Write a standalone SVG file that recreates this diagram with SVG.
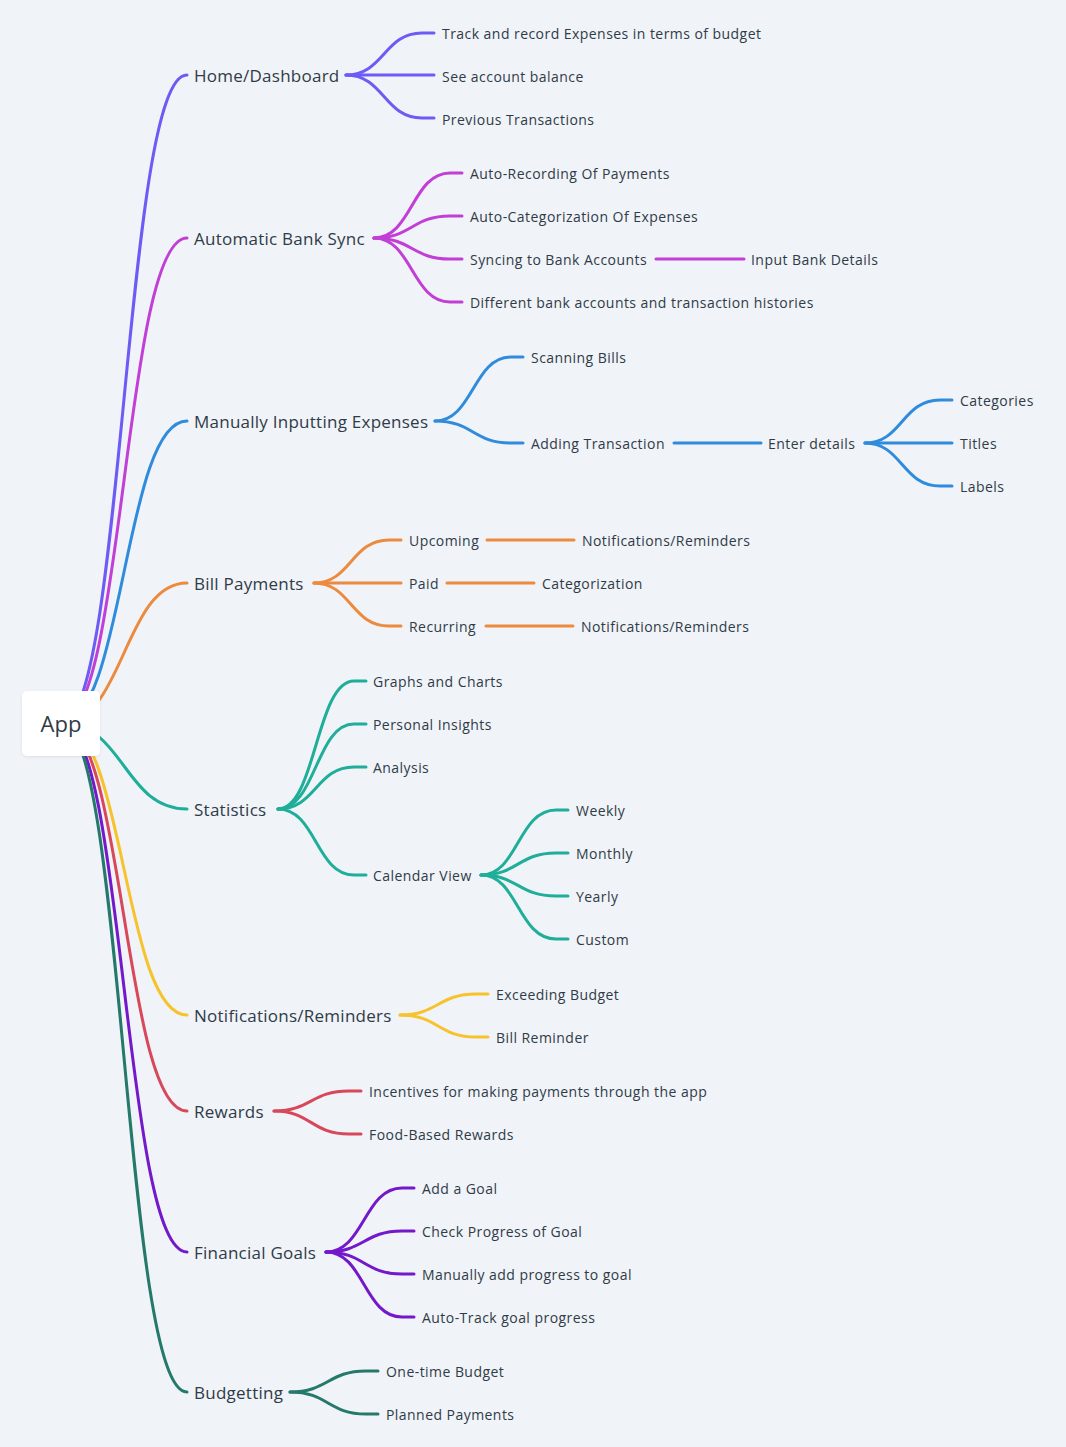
<svg xmlns="http://www.w3.org/2000/svg" width="1066" height="1447" viewBox="0 0 1066 1447">
<defs>
<style>
.t1{font-family:"Open Sans","Liberation Sans",sans-serif;font-size:17px;fill:#2f3b48;letter-spacing:0.25px;}
.t2{font-family:"Open Sans","Liberation Sans",sans-serif;font-size:14px;fill:#2f3b48;letter-spacing:0.45px;}
.c{fill:none;stroke-width:3;stroke-linecap:round;stroke-linejoin:round;}
.p1{stroke:#6C5CF5;} .p2{stroke:#C13FD6;} .p3{stroke:#2F8CDD;} .p4{stroke:#EC8A3E;} .p5{stroke:#1FAE99;}
.p6{stroke:#F7C32C;} .p7{stroke:#D8485B;} .p8{stroke:#7418CB;} .p9{stroke:#25796A;}
</style>
<filter id="sh" x="-20%" y="-20%" width="140%" height="140%"><feDropShadow dx="0" dy="1" stdDeviation="1.5" flood-color="#000" flood-opacity="0.08"/></filter>
</defs>
<rect width="1066" height="1447" fill="#F0F3F7"/>
<g id="connectors">
<path class="c p1" d="M61,723 C124,723 124,75 187,75"/>
<path class="c p2" d="M61,723 C124,723 124,238 187,238"/>
<path class="c p3" d="M61,723 C124,723 124,421 187,421"/>
<path class="c p4" d="M61,723 C124,723 124,583 187,583"/>
<path class="c p5" d="M61,723 C124,723 124,809 187,809"/>
<path class="c p6" d="M61,723 C124,723 124,1015 187,1015"/>
<path class="c p7" d="M61,723 C124,723 124,1111 187,1111"/>
<path class="c p8" d="M61,723 C124,723 124,1252 187,1252"/>
<path class="c p9" d="M61,723 C124,723 124,1392 187,1392"/>

<path class="c p1" d="M346,75 C384,75 384,33 422,33 L434,33"/>
<path class="c p1" d="M346,75 L434,75"/>
<path class="c p1" d="M346,75 C384,75 384,118 422,118 L434,118"/>

<path class="c p2" d="M374,238 C412,238 412,173 450,173 L462,173"/>
<path class="c p2" d="M374,238 C412,238 412,216 450,216 L462,216"/>
<path class="c p2" d="M374,238 C412,238 412,259 450,259 L462,259"/>
<path class="c p2" d="M374,238 C412,238 412,302 450,302 L462,302"/>
<path class="c p2" d="M656,259 L744,259"/>

<path class="c p3" d="M435,421 C473,421 473,357 511,357 L523,357"/>
<path class="c p3" d="M435,421 C473,421 473,443 511,443 L523,443"/>
<path class="c p3" d="M674,443 L761,443"/>
<path class="c p3" d="M865,443 C902,443 902,400 940,400 L952,400"/>
<path class="c p3" d="M865,443 L952,443"/>
<path class="c p3" d="M865,443 C902,443 902,486 940,486 L952,486"/>

<path class="c p4" d="M314,583 C351,583 351,540 389,540 L401,540"/>
<path class="c p4" d="M314,583 L401,583"/>
<path class="c p4" d="M314,583 C351,583 351,626 389,626 L401,626"/>
<path class="c p4" d="M487,540 L574,540"/>
<path class="c p4" d="M447,583 L534,583"/>
<path class="c p4" d="M486,626 L573,626"/>

<path class="c p5" d="M278,809 C316,809 316,681 354,681 L366,681"/>
<path class="c p5" d="M278,809 C316,809 316,724 354,724 L366,724"/>
<path class="c p5" d="M278,809 C316,809 316,767 354,767 L366,767"/>
<path class="c p5" d="M278,809 C316,809 316,875 354,875 L366,875"/>
<path class="c p5" d="M481,875 C518,875 518,810 556,810 L568,810"/>
<path class="c p5" d="M481,875 C518,875 518,853 556,853 L568,853"/>
<path class="c p5" d="M481,875 C518,875 518,896 556,896 L568,896"/>
<path class="c p5" d="M481,875 C518,875 518,939 556,939 L568,939"/>

<path class="c p6" d="M400,1015 C438,1015 438,994 476,994 L488,994"/>
<path class="c p6" d="M400,1015 C438,1015 438,1037 476,1037 L488,1037"/>

<path class="c p7" d="M274,1111 C311,1111 311,1091 349,1091 L361,1091"/>
<path class="c p7" d="M274,1111 C311,1111 311,1134 349,1134 L361,1134"/>

<path class="c p8" d="M326,1252 C364,1252 364,1188 402,1188 L414,1188"/>
<path class="c p8" d="M326,1252 C364,1252 364,1231 402,1231 L414,1231"/>
<path class="c p8" d="M326,1252 C364,1252 364,1274 402,1274 L414,1274"/>
<path class="c p8" d="M326,1252 C364,1252 364,1317 402,1317 L414,1317"/>

<path class="c p9" d="M290,1392 C328,1392 328,1371 366,1371 L378,1371"/>
<path class="c p9" d="M290,1392 C328,1392 328,1414 366,1414 L378,1414"/>
</g>

<g id="app">
<rect x="22" y="691" width="78" height="65" rx="5" fill="#FFFFFF" filter="url(#sh)"/>
<text x="61" y="732" text-anchor="middle" font-family="Open Sans, Liberation Sans, sans-serif" font-size="22" fill="#2f3b48">App</text>
</g>

<g id="home"><text class="t1" x="194" y="82">Home/Dashboard</text></g>
<g id="home-1"><text class="t2" x="442" y="39">Track and record Expenses in terms of budget</text></g>
<g id="home-2"><text class="t2" x="442" y="82">See account balance</text></g>
<g id="home-3"><text class="t2" x="442" y="125">Previous Transactions</text></g>

<g id="bank"><text class="t1" x="194" y="245">Automatic Bank Sync</text></g>
<g id="bank-1"><text class="t2" x="470" y="179">Auto-Recording Of Payments</text></g>
<g id="bank-2"><text class="t2" x="470" y="222">Auto-Categorization Of Expenses</text></g>
<g id="bank-3"><text class="t2" x="470" y="265">Syncing to Bank Accounts</text></g>
<g id="bank-3-1"><text class="t2" x="751" y="265">Input Bank Details</text></g>
<g id="bank-4"><text class="t2" x="470" y="308">Different bank accounts and transaction histories</text></g>

<g id="manual"><text class="t1" x="194" y="428">Manually Inputting Expenses</text></g>
<g id="manual-1"><text class="t2" x="531" y="363">Scanning Bills</text></g>
<g id="manual-2"><text class="t2" x="531" y="449">Adding Transaction</text></g>
<g id="manual-2-1"><text class="t2" x="768" y="449">Enter details</text></g>
<g id="manual-2-1-1"><text class="t2" x="960" y="406">Categories</text></g>
<g id="manual-2-1-2"><text class="t2" x="960" y="449">Titles</text></g>
<g id="manual-2-1-3"><text class="t2" x="960" y="492">Labels</text></g>

<g id="bill"><text class="t1" x="194" y="590">Bill Payments</text></g>
<g id="bill-1"><text class="t2" x="409" y="546">Upcoming</text></g>
<g id="bill-1-1"><text class="t2" x="582" y="546">Notifications/Reminders</text></g>
<g id="bill-2"><text class="t2" x="409" y="589">Paid</text></g>
<g id="bill-2-1"><text class="t2" x="542" y="589">Categorization</text></g>
<g id="bill-3"><text class="t2" x="409" y="632">Recurring</text></g>
<g id="bill-3-1"><text class="t2" x="581" y="632">Notifications/Reminders</text></g>

<g id="stats"><text class="t1" x="194" y="816">Statistics</text></g>
<g id="stats-1"><text class="t2" x="373" y="687">Graphs and Charts</text></g>
<g id="stats-2"><text class="t2" x="373" y="730">Personal Insights</text></g>
<g id="stats-3"><text class="t2" x="373" y="773">Analysis</text></g>
<g id="stats-4"><text class="t2" x="373" y="881">Calendar View</text></g>
<g id="stats-4-1"><text class="t2" x="576" y="816">Weekly</text></g>
<g id="stats-4-2"><text class="t2" x="576" y="859">Monthly</text></g>
<g id="stats-4-3"><text class="t2" x="576" y="902">Yearly</text></g>
<g id="stats-4-4"><text class="t2" x="576" y="945">Custom</text></g>

<g id="notif"><text class="t1" x="194" y="1022">Notifications/Reminders</text></g>
<g id="notif-1"><text class="t2" x="496" y="1000">Exceeding Budget</text></g>
<g id="notif-2"><text class="t2" x="496" y="1043">Bill Reminder</text></g>

<g id="rewards"><text class="t1" x="194" y="1118">Rewards</text></g>
<g id="rewards-1"><text class="t2" x="369" y="1097">Incentives for making payments through the app</text></g>
<g id="rewards-2"><text class="t2" x="369" y="1140">Food-Based Rewards</text></g>

<g id="goals"><text class="t1" x="194" y="1259">Financial Goals</text></g>
<g id="goals-1"><text class="t2" x="422" y="1194">Add a Goal</text></g>
<g id="goals-2"><text class="t2" x="422" y="1237">Check Progress of Goal</text></g>
<g id="goals-3"><text class="t2" x="422" y="1280">Manually add progress to goal</text></g>
<g id="goals-4"><text class="t2" x="422" y="1323">Auto-Track goal progress</text></g>

<g id="budget"><text class="t1" x="194" y="1399">Budgetting</text></g>
<g id="budget-1"><text class="t2" x="386" y="1377">One-time Budget</text></g>
<g id="budget-2"><text class="t2" x="386" y="1420">Planned Payments</text></g>
</svg>
